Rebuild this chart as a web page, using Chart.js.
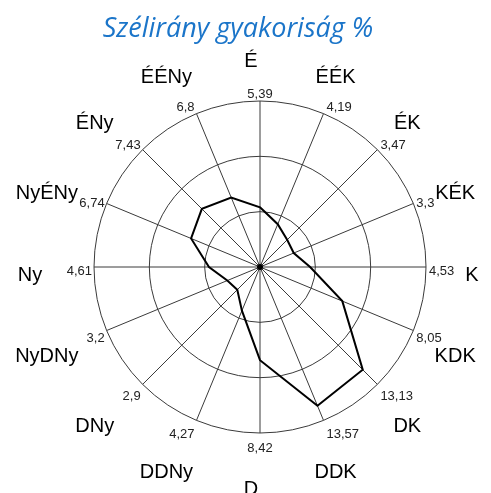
<!DOCTYPE html>
<html>
<head>
<meta charset="utf-8">
<script src="https://cdn.jsdelivr.net/npm/chart.js@4"></script>
<style>
  html, body { margin: 0; padding: 0; background: #ffffff; }
  canvas { display: block; }
</style>
</head>
<body>
<canvas id="c" width="491" height="493"></canvas>
<script>
const titleText = 'Szélirány gyakoriság %';
const directions = ['É', 'ÉÉK', 'ÉK', 'KÉK', 'K', 'KDK', 'DK', 'DDK', 'D', 'DDNy', 'DNy', 'NyDNy', 'Ny', 'NyÉNy', 'ÉNy', 'ÉÉNy'];
const frequencies = [5.39, 4.19, 3.47, 3.3, 4.53, 8.05, 13.13, 13.57, 8.42, 4.27, 2.9, 3.2, 4.61, 6.74, 7.43, 6.8];
const valueLabels = ['5,39', '4,19', '3,47', '3,3', '4,53', '8,05', '13,13', '13,57', '8,42', '4,27', '2,9', '3,2', '4,61', '6,74', '7,43', '6,8'];
const scaleMax = 15;
const scaleStep = 5;

const labelPlugin = {
  id: 'windLabels',
  afterDraw(chart) {
    const ctx = chart.ctx;
    const s = chart.scales.r;
    const R = s.drawingArea;
    const cx = s.xCenter, cy = s.yCenter;
    ctx.save();
    // title
    ctx.fillStyle = '#1B75C9';
    ctx.font = 'italic 27px "Open Sans"';
    ctx.textAlign = 'center';
    ctx.textBaseline = 'alphabetic';
    ctx.fillText(titleText, 238, 37);
    // center dot
    ctx.beginPath();
    ctx.arc(cx, cy, 3, 0, Math.PI * 2);
    ctx.fillStyle = '#000';
    ctx.fill();
    // value labels
    ctx.font = '13px "Liberation Sans"';
    ctx.fillStyle = '#222';
    ctx.textBaseline = 'middle';
    valueLabels.forEach((t, i) => {
      const a = s.getIndexAngle(i);
      const p = s.getPointPosition(i, R);
      const sn = Math.sin(a), cs = Math.cos(a);
      let x = p.x;
      if (sn > 0.1) { ctx.textAlign = 'left'; x = p.x + 3; }
      else if (sn < -0.1) { ctx.textAlign = 'right'; x = p.x - 2; }
      else { ctx.textAlign = 'center'; }
      const y = p.y + 4 - 11 * cs;
      ctx.fillText(t, x, y);
    });
    // direction names
    ctx.font = '20px "Liberation Sans"';
    ctx.fillStyle = '#000';
    ctx.textAlign = 'center';
    ctx.textBaseline = 'middle';
    directions.forEach((t, i) => {
      const a = s.getIndexAngle(i);
      const x = cx - 9 + (R + 55) * Math.sin(a);
      const y = cy + 8 - (R + 48) * Math.cos(a);
      ctx.fillText(t, x, y);
    });
    ctx.restore();
  }
};

new Chart(document.getElementById('c'), {
  type: 'radar',
  data: {
    labels: directions,
    datasets: [{
      data: frequencies,
      borderColor: '#000',
      borderWidth: 2,
      fill: false,
      pointRadius: 0,
      pointHoverRadius: 0,
      tension: 0
    }]
  },
  options: {
    responsive: false,
    devicePixelRatio: 1,
    animation: false,
    layout: { padding: { left: 94, right: 65, top: 101, bottom: 60 } },
    plugins: { legend: { display: false }, title: { display: false }, tooltip: { enabled: false } },
    scales: {
      r: {
        min: 0,
        max: scaleMax,
        ticks: { display: false, stepSize: scaleStep },
        pointLabels: { display: false },
        grid: { circular: true, color: '#3a3a3a', lineWidth: 1 },
        angleLines: { color: '#3a3a3a', lineWidth: 1 }
      }
    }
  },
  plugins: [labelPlugin]
});
</script>
</body>
</html>
